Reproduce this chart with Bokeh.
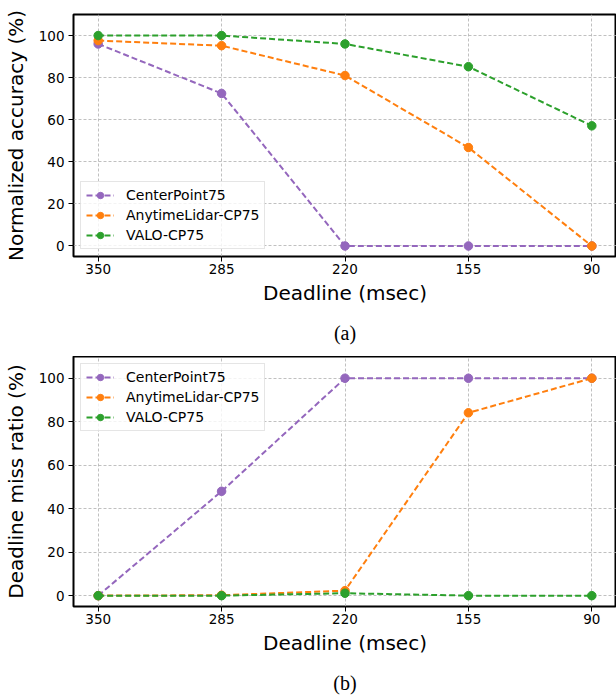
from bokeh.plotting import figure
from bokeh.layouts import column
from bokeh.models import Range1d, FixedTicker, Title, Legend, LegendItem
from bokeh.embed import file_html
from bokeh.resources import INLINE

# ---- data ----
deadlines = ["350", "285", "220", "155", "90"]
series_names = ["CenterPoint75", "AnytimeLidar-CP75", "VALO-CP75"]
acc_centerpoint = [96.0, 72.5, 0, 0, 0]
acc_anytime = [97.6, 95.2, 81.0, 46.8, 0]
acc_valo = [100, 100, 96.0, 85.2, 57.1]
miss_centerpoint = [0, 48.0, 100, 100, 100]
miss_anytime = [0, 0.2, 2.3, 84.1, 100]
miss_valo = [0, 0, 1.1, 0, 0]
y_ticks = [0, 20, 40, 60, 80, 100]

colors = ["#9467bd", "#ff7f0e", "#2ca02c"]
FONT = "DejaVu Sans"


def make(ylabel, series, caption, frame_height, border_top, legend_loc):
    xs = list(range(len(deadlines)))
    p = figure(width=616, frame_height=frame_height,
               output_backend="svg", toolbar_location=None,
               x_range=Range1d(-0.2, len(deadlines) - 0.8),
               y_range=Range1d(-5, 110),
               min_border_left=64, min_border_right=0,
               min_border_top=border_top, min_border_bottom=0)
    p.outline_line_color = "black"
    p.outline_line_width = 2
    p.background_fill_color = "white"
    p.border_fill_color = "white"

    p.xaxis.ticker = FixedTicker(ticks=xs)
    p.xaxis.major_label_overrides = {i: d for i, d in zip(xs, deadlines)}
    p.yaxis.ticker = FixedTicker(ticks=y_ticks)
    for ax in (p.xaxis[0], p.yaxis[0]):
        ax.axis_line_color = None
        ax.major_tick_out = 5
        ax.major_tick_in = 0
        ax.major_tick_line_color = "black"
        ax.major_tick_line_width = 1
        ax.minor_tick_line_color = None
        ax.major_label_text_font = FONT
        ax.major_label_text_font_size = "13.5px"
        ax.major_label_text_color = "black"
        ax.axis_label_text_font = FONT
        ax.axis_label_text_font_size = "20px"
        ax.axis_label_text_font_style = "normal"
        ax.axis_label_text_color = "black"
    p.xaxis.axis_label = "Deadline (msec)"
    p.xaxis.major_label_standoff = 2
    p.xaxis.axis_label_standoff = 4
    p.yaxis.axis_label = ylabel
    p.yaxis.major_label_standoff = 4
    p.yaxis.axis_label_standoff = 8

    for g in (p.xgrid[0], p.ygrid[0]):
        g.grid_line_color = "#b0b0b0"
        g.grid_line_dash = "3 2"
        g.grid_line_width = 0.8

    items = []
    for name, vals, c in zip(series_names, series, colors):
        l = p.line(xs, vals, line_color=c, line_width=2, line_dash="6 3")
        s = p.scatter(xs, vals, size=8.5, fill_color=c, line_color=c)
        items.append(LegendItem(label=name, renderers=[l, s]))
    leg = Legend(items=items, location=legend_loc, margin=7,
                 label_text_font=FONT, label_text_font_size="14px",
                 label_text_color="black",
                 glyph_width=28, glyph_height=16, label_height=16,
                 label_standoff=12, padding=5, spacing=4,
                 border_line_color="#cccccc", border_line_width=1,
                 background_fill_alpha=0.8)
    p.add_layout(leg)

    p.add_layout(Title(text=caption, align="center", text_font="Liberation Serif",
                       text_font_size="20px", text_font_style="normal",
                       text_color="black", standoff=25), "below")
    return p


p1 = make("Normalized accuracy (%)", [acc_centerpoint, acc_anytime, acc_valo],
          "(a)", 242, 14, "bottom_left")
p2 = make("Deadline miss ratio (%)", [miss_centerpoint, miss_anytime, miss_valo],
          "(b)", 250, 0, "top_left")

layout = column(p1, p2, spacing=0)
open("out.html", "w").write(file_html(layout, INLINE))
